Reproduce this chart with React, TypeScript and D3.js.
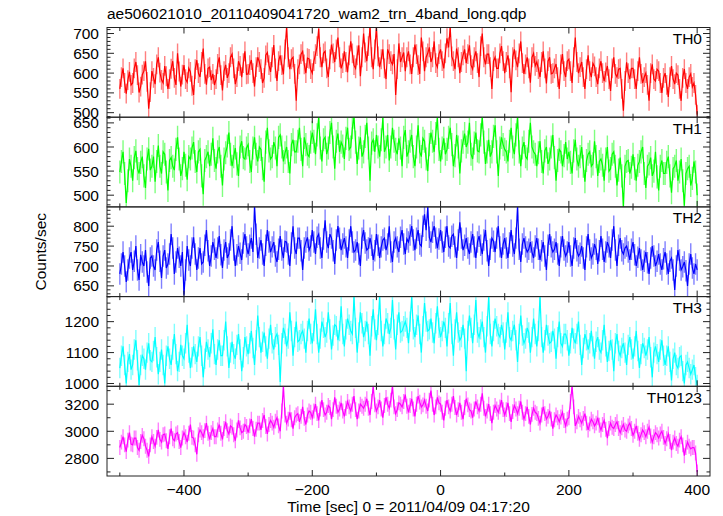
import React from 'react';
import * as d3 from 'd3';

const TITLE = 'ae506021010_20110409041720_wam2_trn_4band_long.qdp';
const X_LABEL = 'Time [sec] 0 = 2011/04/09 04:17:20';
const Y_LABEL = 'Counts/sec';
const X_TICKS = [-400, -200, 0, 200, 400];
const X_MINOR = [-500, -300, -100, 100, 300];

// sample times: series "A" at -500, -495, ... 400; series "B" half a step later
const TIMES_A = d3.range(-500, 401, 5);
const TIMES_B = d3.range(-497.5, 400, 5);

const TH0_A = [
  560, 612, 548, 603, 575, 628, 551, 596, 630, 510,
  605, 572, 640, 583, 618, 560, 611, 588, 650, 566,
  620, 577, 603, 545, 633, 590, 662, 571, 615, 598,
  585, 640, 556, 621, 600, 648, 572, 630, 590, 655,
  598, 633, 566, 640, 610, 588, 652, 603, 671, 580,
  645, 597, 716, 610, 640, 530, 622, 655, 600, 636,
  600, 648, 712, 615, 655, 590, 672, 628, 690, 612,
  655, 602, 680, 620, 645, 592, 700, 630, 716, 610,
  716, 615, 660, 585, 648, 622, 545, 675, 640, 605,
  655, 598, 672, 620, 690, 605, 650, 628, 680, 615,
  660, 612, 688, 716, 630, 662, 600, 645, 625, 670,
  610, 655, 590, 700, 622, 648, 560, 640, 612, 668,
  600, 645, 552, 660, 615, 680, 598, 640, 576, 650,
  628, 590, 655, 574, 640, 600, 623, 560, 648, 590,
  635, 575, 690, 600, 628, 560, 645, 590, 617, 572,
  630, 580, 618, 555, 640, 590, 612, 505, 627, 585,
  612, 560, 640, 575, 600, 530, 622, 580, 605, 550,
  600, 540, 618, 572, 595, 530, 610, 560, 598, 575,
  495,
];
const TH0_B = [
  590, 575, 582, 570, 612, 595, 566, 605, 578, 552,
  588, 622, 601, 575, 592, 585, 630, 570, 604, 596,
  585, 612, 568, 610, 600, 628, 598, 612, 582, 570,
  623, 595, 605, 588, 640, 612, 590, 618, 625, 597,
  620, 600, 615, 628, 575, 645, 620, 640, 612, 630,
  620, 660, 640, 635, 598, 610, 648, 622, 638, 610,
  630, 668, 640, 650, 612, 635, 650, 660, 640, 625,
  628, 645, 650, 612, 670, 640, 652, 668, 640, 660,
  642, 635, 612, 660, 630, 648, 610, 628, 652, 640,
  622, 640, 648, 598, 655, 640, 665, 640, 625, 648,
  630, 650, 665, 642, 610, 640, 628, 660, 648, 620,
  640, 625, 668, 640, 648, 615, 630, 612, 650, 630,
  628, 612, 640, 632, 650, 625, 622, 612, 640, 618,
  610, 628, 612, 630, 598, 612, 590, 622, 605, 630,
  605, 640, 628, 615, 590, 610, 605, 625, 590, 612,
  600, 602, 585, 612, 598, 610, 560, 580, 600, 612,
  585, 605, 598, 590, 570, 600, 585, 610, 575, 588,
  570, 590, 585, 600, 560, 588, 575, 590, 565, 545,
];

const TH1_A = [
  548, 590, 484, 575, 530, 592, 545, 580, 515, 596,
  560, 528, 603, 545, 585, 510, 578, 552, 620, 540,
  590, 532, 575, 610, 548, 595, 502, 580, 560, 618,
  555, 600, 520, 588, 630, 560, 598, 540, 612, 575,
  605, 548, 620, 570, 595, 528, 640, 575, 610, 560,
  625, 570, 600, 545, 615, 590, 640, 560, 605, 580,
  630, 585, 662, 570, 620, 598, 650, 555, 628, 610,
  575, 640, 600, 662, 565, 620, 590, 650, 530, 615,
  625, 580, 660, 600, 572, 640, 595, 618, 560, 635,
  590, 625, 560, 645, 580, 612, 550, 630, 590, 660,
  570, 618, 595, 640, 560, 625, 545, 610, 600, 650,
  575, 630, 590, 662, 565, 615, 590, 645, 540, 620,
  595, 570, 640, 585, 662, 560, 610, 575, 650, 590,
  560, 612, 545, 600, 575, 625, 530, 595, 560, 610,
  590, 545, 615, 560, 600, 528, 585, 560, 612, 540,
  575, 530, 600, 555, 590, 520, 578, 476, 570, 545,
  585, 530, 570, 600, 515, 565, 540, 590, 510, 572,
  545, 580, 505, 560, 530, 575, 478, 555, 520, 570,
  500,
];
const TH1_B = [
  570, 545, 530, 560, 578, 555, 568, 540, 575, 552,
  580, 570, 560, 590, 548, 572, 560, 595, 575, 555,
  562, 580, 598, 570, 590, 540, 572, 590, 585, 572,
  590, 560, 575, 602, 585, 580, 565, 600, 578, 598,
  570, 598, 585, 600, 555, 610, 592, 580, 598, 620,
  600, 588, 570, 605, 590, 612, 595, 620, 585, 610,
  612, 625, 598, 615, 585, 630, 600, 612, 590, 602,
  618, 595, 640, 610, 598, 580, 622, 598, 608, 590,
  600, 615, 590, 625, 600, 612, 585, 598, 620, 580,
  612, 580, 600, 590, 618, 575, 605, 612, 628, 595,
  598, 585, 620, 605, 582, 600, 592, 628, 610, 585,
  608, 592, 625, 610, 590, 580, 622, 590, 598, 605,
  590, 612, 600, 625, 590, 598, 580, 612, 600, 585,
  588, 570, 592, 565, 600, 578, 572, 590, 582, 575,
  568, 592, 575, 580, 560, 572, 590, 565, 580, 570,
  562, 575, 550, 585, 560, 552, 540, 560, 572, 558,
  555, 562, 590, 545, 560, 578, 550, 538, 560, 545,
  568, 540, 555, 572, 548, 530, 545, 560, 535, 548,
];

const TH2_A = [
  680, 735, 660, 720, 690, 750, 665, 710, 740, 650,
  725, 690, 760, 670, 740, 705, 780, 680, 745, 700,
  628, 750, 700, 772, 690, 745, 710, 790, 700, 760,
  720, 775, 695, 760, 730, 800, 700, 750, 715, 780,
  730, 770, 848, 720, 765, 700, 790, 735, 760, 710,
  775, 720, 760, 700, 800, 730, 770, 690, 760, 740,
  790, 730, 780, 720, 815, 745, 770, 705, 800, 740,
  770, 720, 800, 735, 760, 700, 790, 740, 770, 715,
  780, 720, 765, 740, 800, 710, 770, 735, 790, 730,
  760, 800, 740, 790, 750, 830, 848, 760, 800, 745,
  790, 735, 800, 745, 780, 720, 810, 740, 770, 730,
  780, 720, 775, 730, 790, 700, 770, 735, 800, 720,
  770, 720, 790, 730, 848, 710, 770, 735, 760, 720,
  770, 715, 760, 690, 780, 735, 760, 700, 775, 725,
  760, 700, 770, 725, 750, 690, 780, 720, 755, 705,
  775, 710, 760, 720, 800, 700, 770, 730, 750, 715,
  760, 700, 745, 690, 735, 680, 750, 700, 730, 690,
  735, 680, 720, 640, 740, 690, 710, 650, 730, 680,
  690,
];
const TH2_B = [
  705, 700, 690, 735, 712, 690, 728, 700, 685, 720,
  700, 740, 712, 725, 695, 730, 745, 710, 722, 735,
  690, 715, 745, 730, 720, 705, 752, 738, 725, 742,
  745, 728, 740, 720, 765, 740, 728, 732, 758, 748,
  752, 735, 780, 745, 730, 752, 760, 748, 725, 742,
  740, 762, 730, 758, 745, 770, 738, 745, 772, 750,
  760, 772, 745, 768, 760, 780, 738, 765, 770, 755,
  748, 765, 760, 740, 730, 770, 758, 745, 752, 738,
  752, 748, 770, 755, 735, 760, 748, 772, 755, 768,
  778, 765, 770, 755, 800, 790, 772, 785, 770, 768,
  760, 772, 750, 775, 748, 765, 770, 752, 745, 760,
  748, 760, 752, 765, 738, 742, 762, 770, 748, 755,
  745, 758, 750, 770, 742, 755, 748, 742, 735, 750,
  742, 738, 725, 752, 748, 742, 730, 748, 740, 735,
  725, 745, 738, 732, 720, 748, 740, 730, 742, 738,
  742, 735, 748, 765, 740, 752, 738, 745, 735, 742,
  728, 722, 715, 712, 708, 720, 725, 712, 705, 718,
  705, 712, 690, 700, 715, 698, 688, 705, 695, 705,
];

const TH3_A = [
  1050, 1120, 1000, 1095, 1060, 1140, 995, 1090, 1045, 1130,
  1070, 1150, 1030, 1110, 1000, 1120, 1060, 1160, 1040, 1125,
  1080, 1190, 1050, 1120, 1070, 1150, 1020, 1135, 1085, 1175,
  1060, 1140, 1090, 1200, 1050, 1135, 1080, 1160, 1040, 1150,
  1095, 1170, 1060, 1220, 1100, 1165, 1080, 1190, 1110, 1160,
  1005, 1180, 1120, 1230, 1090, 1200, 1140, 1170, 1100, 1210,
  1130, 1240, 1100, 1200, 1150, 1230, 1110, 1190, 1140, 1250,
  1120, 1210, 1170, 1281, 1100, 1230, 1150, 1200, 1090, 1240,
  1140, 1281, 1120, 1210, 1160, 1270, 1110, 1230, 1170, 1200,
  1130, 1281, 1150, 1220, 1100, 1260, 1170, 1210, 1130, 1250,
  1150, 1200, 1120, 1260, 1090, 1230, 1140, 1190, 1040, 1220,
  1130, 1270, 1150, 1200, 1100, 1281, 1120, 1210, 1160, 1190,
  1110, 1230, 1140, 1190, 1070, 1220, 1130, 1180, 1100, 1210,
  1120, 1281, 1100, 1190, 1130, 1170, 1080, 1200, 1120, 1160,
  1090, 1180, 1130, 1200, 1060, 1160, 1110, 1170, 1080, 1150,
  1100, 1190, 1070, 1140, 1040, 1160, 1090, 1130, 1060, 1150,
  1080, 1170, 1050, 1130, 1090, 1150, 1020, 1120, 1070, 1140,
  1060, 1120, 1010, 1100, 1050, 1090, 1000, 1070, 1030, 1060,
  995,
];
const TH3_B = [
  1090, 1060, 1070, 1045, 1110, 1075, 1060, 1080, 1100, 1075,
  1105, 1085, 1070, 1060, 1090, 1080, 1110, 1095, 1070, 1090,
  1130, 1100, 1085, 1095, 1120, 1090, 1080, 1110, 1130, 1095,
  1110, 1090, 1140, 1120, 1100, 1095, 1125, 1110, 1085, 1120,
  1130, 1115, 1140, 1150, 1135, 1120, 1145, 1130, 1150, 1125,
  1130, 1160, 1145, 1170, 1150, 1135, 1160, 1145, 1170, 1160,
  1170, 1160, 1145, 1180, 1165, 1175, 1155, 1185, 1170, 1160,
  1175, 1190, 1160, 1180, 1165, 1195, 1170, 1160, 1185, 1175,
  1190, 1170, 1160, 1195, 1180, 1175, 1190, 1165, 1185, 1180,
  1200, 1175, 1190, 1160, 1185, 1200, 1175, 1165, 1195, 1180,
  1170, 1180, 1195, 1160, 1175, 1165, 1150, 1145, 1170, 1180,
  1190, 1165, 1175, 1150, 1185, 1160, 1170, 1185, 1150, 1165,
  1165, 1150, 1170, 1140, 1160, 1155, 1145, 1165, 1150, 1160,
  1170, 1150, 1140, 1155, 1135, 1145, 1150, 1130, 1160, 1140,
  1130, 1145, 1160, 1125, 1115, 1140, 1130, 1120, 1135, 1110,
  1140, 1120, 1105, 1110, 1130, 1105, 1115, 1100, 1125, 1110,
  1120, 1105, 1095, 1115, 1110, 1085, 1100, 1095, 1110, 1090,
  1090, 1070, 1080, 1060, 1085, 1040, 1060, 1050, 1045, 1020,
];

const TH0123_A = [
  2880, 2960, 2850, 2990, 2900, 2950, 2860, 2970, 2890, 2815,
  2960, 2890, 3010, 2920, 2980, 2870, 3020, 2930, 2990, 2880,
  2990, 2920, 3050, 2950, 2830, 3010, 2960, 3060, 2940, 3020,
  2960, 3050, 2940, 3070, 2980, 3030, 2930, 3080, 2990, 3050,
  2990, 3090, 2960, 3060, 3010, 3120, 2980, 3080, 3030, 3100,
  3000, 3332, 3060, 3140, 3020, 3120, 3070, 3180, 3050, 3150,
  3100, 3200, 3080, 3230, 3120, 3190, 3090, 3250, 3140, 3210,
  3110, 3220, 3150, 3260, 3090, 3200, 3170, 3240, 3120, 3332,
  3150, 3230, 3100, 3250, 3170, 3332, 3130, 3210, 3180, 3270,
  3140, 3240, 3110, 3260, 3180, 3230, 3150, 3300, 3120, 3250,
  3200, 3080, 3230, 3150, 3260, 3120, 3210, 3090, 3240, 3160,
  3100, 3220, 3150, 3280, 3110, 3200, 3060, 3190, 3140, 3230,
  3120, 3210, 3070, 3190, 3130, 3220, 3090, 3180, 3050, 3170,
  3130, 3060, 3180, 3090, 3150, 3020, 3120, 3070, 3140, 3040,
  3100, 3332, 3040, 3110, 3060, 3130, 3010, 3090, 3040, 3100,
  3010, 3080, 2950, 3060, 3020, 3070, 2990, 3050, 3000, 3060,
  2970, 3040, 2940, 3010, 2960, 3030, 2920, 2990, 2950, 3000,
  2910, 2980, 2860, 2950, 2890, 2960, 2820, 2920, 2870, 2880,
  2700,
];
const TH0123_B = [
  2920, 2900, 2935, 2905, 2950, 2880, 2925, 2945, 2860, 2900,
  2925, 2955, 2940, 2975, 2930, 2960, 2945, 2980, 2925, 2950,
  2960, 2985, 2955, 2900, 2975, 2990, 3005, 2985, 2990, 2960,
  3010, 2985, 3020, 3005, 3040, 2975, 3010, 3025, 3000, 3035,
  3040, 3020, 3015, 3060, 3080, 3035, 3050, 3060, 3075, 3040,
  3150, 3120, 3090, 3085, 3100, 3130, 3110, 3095, 3120, 3140,
  3150, 3130, 3165, 3160, 3140, 3175, 3160, 3185, 3165, 3150,
  3170, 3180, 3200, 3160, 3150, 3185, 3200, 3170, 3220, 3195,
  3180, 3165, 3190, 3200, 3230, 3180, 3160, 3200, 3220, 3185,
  3190, 3165, 3200, 3215, 3195, 3185, 3230, 3200, 3180, 3210,
  3140, 3170, 3180, 3200, 3175, 3160, 3140, 3175, 3195, 3150,
  3165, 3180, 3200, 3170, 3150, 3130, 3140, 3165, 3180, 3160,
  3160, 3130, 3145, 3165, 3170, 3140, 3130, 3110, 3125, 3140,
  3095, 3120, 3130, 3110, 3090, 3085, 3100, 3105, 3080, 3090,
  3220, 3180, 3070, 3085, 3095, 3060, 3055, 3070, 3060, 3045,
  3050, 3015, 3020, 3030, 3050, 3020, 3025, 3010, 3040, 3020,
  3000, 2985, 2975, 2990, 3000, 2965, 2960, 2975, 2980, 2955,
  2945, 2925, 2920, 2910, 2935, 2900, 2880, 2890, 2880, 2840,
];

const BAND_NAMES = ['TH0', 'TH1', 'TH2', 'TH3', 'TH0123'];
const BAND_A = [TH0_A, TH1_A, TH2_A, TH3_A, TH0123_A];
const BAND_B = [TH0_B, TH1_B, TH2_B, TH3_B, TH0123_B];
const BAND_ERRORS = [25, 24, 27, 33, 55];
const BAND_COLORS = ['#ff0000', '#00ff00', '#0000ff', '#00ffff', '#ff00ff'];
const BAND_DOMAINS: [number, number][] = [
  [488.6, 715.2],
  [475.7, 661.8],
  [623, 848.5],
  [991, 1281],
  [2670, 3332],
];
const BAND_MAJOR = [50, 50, 50, 100, 200];
const BAND_MINOR = [10, 10, 10, 20, 100];

const W = 723;
const H = 516;
const X0 = 107;
const X1 = 710;
const TOP = 27.5;
const PANEL_H = 89.7;
const FONT = '"Liberation Sans", Arial, Helvetica, sans-serif';
const FS = 15.5;

const x = d3.scaleLinear().domain([-520, 420]).range([X0, X1]);

function seriesPoints(idx: number): [number, number][] {
  const a = BAND_A[idx];
  const b = BAND_B[idx];
  const out: [number, number][] = [];
  a.forEach((v, i) => {
    out.push([TIMES_A[i], v]);
    if (i < b.length) out.push([TIMES_B[i], b[i]]);
  });
  return out;
}

function Panel({ idx }: { idx: number }) {
  const top = TOP + idx * PANEL_H;
  const bottom = top + PANEL_H;
  const [d0, d1] = BAND_DOMAINS[idx];
  const y = d3.scaleLinear().domain([d0, d1]).range([bottom, top]);
  const err = BAND_ERRORS[idx];
  const color = BAND_COLORS[idx];
  const pts = seriesPoints(idx);
  const line = d3
    .line<[number, number]>()
    .x((d) => x(d[0]))
    .y((d) => y(d[1]));
  const major = BAND_MAJOR[idx];
  const minor = BAND_MINOR[idx];
  const majorTicks = d3.range(Math.ceil(d0 / major) * major, d1 + 1e-9, major);
  const minorTicks = d3
    .range(Math.ceil(d0 / minor) * minor, d1 + 1e-9, minor)
    .filter((v) => Math.abs(v / major - Math.round(v / major)) > 1e-6);
  const clipId = `clip-${idx}`;
  const isLast = idx === BAND_NAMES.length - 1;
  return (
    <g>
      <defs>
        <clipPath id={clipId}>
          <rect x={X0} y={top} width={X1 - X0} height={PANEL_H} />
        </clipPath>
      </defs>
      <g clipPath={`url(#${clipId})`}>
        <g stroke={color} strokeOpacity={0.5} strokeWidth={1.4}>
          {pts.map((p, i) => (
            <line
              key={i}
              x1={x(p[0])}
              x2={x(p[0])}
              y1={y(p[1] - err)}
              y2={y(p[1] + err)}
            />
          ))}
        </g>
        <path d={line(pts) || ''} fill="none" stroke={color} strokeWidth={1.2} />
      </g>
      <rect x={X0} y={top} width={X1 - X0} height={PANEL_H} fill="none" stroke="#222" strokeWidth={1} />
      <g stroke="#222" strokeWidth={1}>
        {majorTicks.map((v) => (
          <g key={`M${v}`}>
            <line x1={X0} x2={X0 + 7} y1={y(v)} y2={y(v)} />
            <line x1={X1} x2={X1 - 7} y1={y(v)} y2={y(v)} />
          </g>
        ))}
        {minorTicks.map((v) => (
          <g key={`m${v}`}>
            <line x1={X0} x2={X0 + 3.5} y1={y(v)} y2={y(v)} />
            <line x1={X1} x2={X1 - 3.5} y1={y(v)} y2={y(v)} />
          </g>
        ))}
        {X_TICKS.map((t) => (
          <g key={`X${t}`}>
            <line x1={x(t)} x2={x(t)} y1={top} y2={top + 6} />
            <line x1={x(t)} x2={x(t)} y1={bottom} y2={bottom - 6} />
          </g>
        ))}
        {X_MINOR.map((t) => (
          <g key={`x${t}`}>
            <line x1={x(t)} x2={x(t)} y1={top} y2={top + 3.5} />
            <line x1={x(t)} x2={x(t)} y1={bottom} y2={bottom - 3.5} />
          </g>
        ))}
      </g>
      <g fontFamily={FONT} fontSize={FS} fill="#000">
        {majorTicks.map((v) => (
          <text key={`L${v}`} x={X0 - 8} y={y(v)} dy="0.36em" textAnchor="end">
            {v}
          </text>
        ))}
        <text x={702} y={top + 16.5} textAnchor="end">
          {BAND_NAMES[idx]}
        </text>
        {isLast &&
          X_TICKS.map((t) => (
            <text key={`XL${t}`} x={x(t)} y={bottom + 19} textAnchor="middle">
              {t < 0 ? `\u2212${Math.abs(t)}` : t}
            </text>
          ))}
      </g>
    </g>
  );
}

export default function App() {
  const midY = TOP + (PANEL_H * BAND_NAMES.length) / 2;
  return (
    <svg
      width={W}
      height={H}
      viewBox={`0 0 ${W} ${H}`}
      style={{ position: 'absolute', left: 0, top: 0, background: '#fff' }}
    >
      <rect x={0} y={0} width={W} height={H} fill="#fff" />
      {BAND_NAMES.map((_, i) => (
        <Panel key={i} idx={i} />
      ))}
      <g fontFamily={FONT} fontSize={FS} fill="#000">
        <text x={X0} y={19}>
          {TITLE}
        </text>
        <text x={(X0 + X1) / 2} y={512} textAnchor="middle">
          {X_LABEL}
        </text>
        <text transform={`translate(46, ${midY}) rotate(-90)`} textAnchor="middle">
          {Y_LABEL}
        </text>
      </g>
    </svg>
  );
}
